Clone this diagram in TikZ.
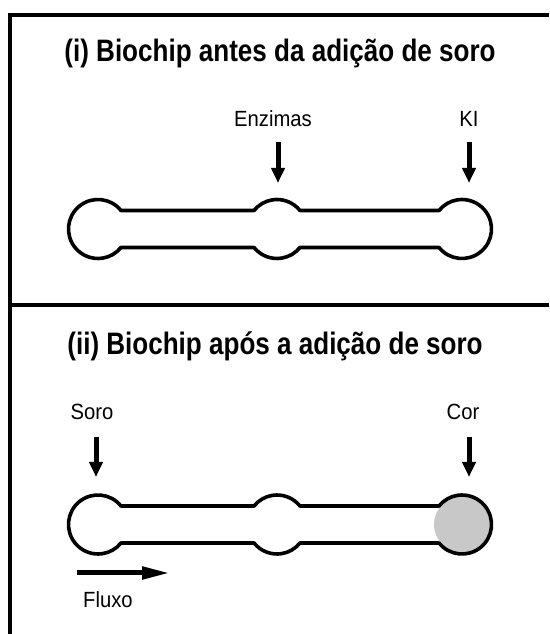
\documentclass[tikz,border=0pt]{standalone}
\usepackage{fontspec}
\usepackage{tikz}
\usetikzlibrary{arrows.meta, positioning}
\newfontfamily\headfont{Liberation Sans}[FakeStretch=0.84]
\newfontfamily\labelfont{Liberation Sans}[FakeStretch=0.92]
\definecolor{spotgray}{RGB}{200, 200, 200}

\begin{document}
\begin{tikzpicture}[x=1pt, y=1pt,
        heading/.style={anchor=base, inner sep=0pt, font=\headfont\bfseries\fontsize{31}{36}\selectfont},
        lbl/.style={anchor=base, inner sep=0pt, font=\labelfont\fontsize{22}{26}\selectfont},
        chipwall/.style={line width=3.6pt, line join=round},
        feedarrow/.style={-{Triangle[length=15pt, width=13pt]}, line width=5pt},
        flowarrow/.style={-{Triangle[length=28pt, width=12pt]}, line width=5pt}]
        \useasboundingbox (0,0) rectangle (549,634);
        % frame
        \draw[line width=3.2pt] (549,619) -- (10,619) -- (10,0);
        \draw[line width=3.2pt] (10,329) -- (549,329);
        % titles
        \node[heading] (title1) at (280,572) {(i) Biochip antes da adição de soro};
        \node[heading] (title2) at (275,279) {(ii) Biochip após a adição de soro};
        % chip centres
        \coordinate (a1) at (98,405);
        \coordinate (a2) at (277,405);
        \coordinate (a3) at (462,405);
        \coordinate (b1) at (98,109.5);
        \coordinate (b2) at (277,109.5);
        \coordinate (b3) at (462,109.5);
        % colour in the last well
        \fill[spotgray] (b3) circle (28);
        % channels
        \foreach \w in {a, b} {
            \draw[chipwall] (\w1) ++(38.8:29.5) arc[start angle=38.8, end angle=321.2, radius=29.5]
                -- ([shift={(218.8:29.5)}]\w2) arc[start angle=218.8, end angle=321.2, radius=29.5]
                -- ([shift={(218.8:29.5)}]\w3) arc[start angle=218.8, end angle=501.2, radius=29.5]
                -- ([shift={(38.8:29.5)}]\w2) arc[start angle=38.8, end angle=141.2, radius=29.5]
                -- cycle;
        }
        % labels and feed arrows
        \node[lbl] (enzimas) at (273,507) {Enzimas};
        \node[lbl] (ki) at (469,507) {KI};
        \node[lbl] (soro) at (92,214) {Soro};
        \node[lbl] (cor) at (463,214) {Cor};
        \coordinate (enzTop) at (278,492);
        \coordinate (enzTip) at (278,451);
        \coordinate (kiTop) at (469,492);
        \coordinate (kiTip) at (469,451);
        \coordinate (soroTop) at (96,197);
        \coordinate (soroTip) at (96,157);
        \coordinate (corTop) at (469,197);
        \coordinate (corTip) at (469,157);
        \draw[feedarrow] (enzTop) -- (enzTip);
        \draw[feedarrow] (kiTop) -- (kiTip);
        \draw[feedarrow] (soroTop) -- (soroTip);
        \draw[feedarrow] (corTop) -- (corTip);
        % flow
        \coordinate (flowStart) at (77,61);
        \coordinate (flowEnd) at (170,61);
        \draw[flowarrow] (flowStart) -- (flowEnd);
        \node[lbl, anchor=base west] (fluxo) at (83,27) {Fluxo};
    \end{tikzpicture}
\end{document}
